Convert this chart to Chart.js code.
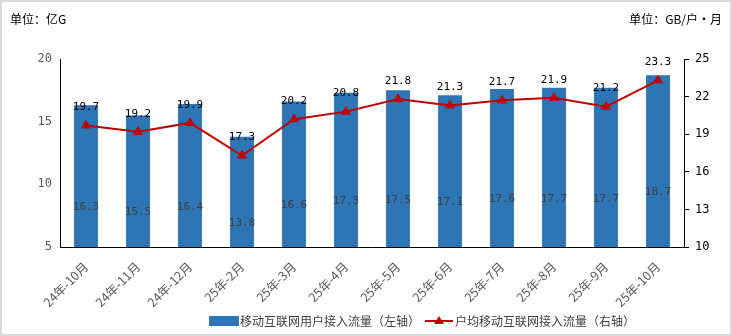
<!DOCTYPE html>
<html>
<head>
<meta charset="utf-8">
<script src="https://cdn.jsdelivr.net/npm/chart.js@4"></script>
<style>
  html, body { margin: 0; padding: 0; background: #fff; }
  #wrap { position: relative; width: 732px; height: 336px; box-sizing: border-box; border: 2px solid #d9d9d9; }
  canvas { position: absolute; left: -2px; top: -2px; }
</style>
</head>
<body>
<div id="wrap"><canvas id="c" width="732" height="336"></canvas></div>
<script>
// months on the x axis
const months = ['24年-10月', '24年-11月', '24年-12月', '25年-2月', '25年-3月', '25年-4月',
                '25年-5月', '25年-6月', '25年-7月', '25年-8月', '25年-9月', '25年-10月'];
// 移动互联网用户接入流量 (亿G, left axis)
const totalTraffic = [16.3, 15.5, 16.4, 13.8, 16.6, 17.3, 17.5, 17.1, 17.6, 17.7, 17.7, 18.7];
// 户均移动互联网接入流量 (GB/户·月, right axis)
const perUserTraffic = [19.7, 19.2, 19.9, 17.3, 20.2, 20.8, 21.8, 21.3, 21.7, 21.9, 21.2, 23.3];
const leftTicks = [5, 10, 15, 20];
const rightTicks = [10, 13, 16, 19, 22, 25];

const CJK = '"Noto Sans CJK SC", "Noto Sans", sans-serif';
const NUM = '"DejaVu Sans Mono", monospace';

// value labels + unit captions + legend, drawn by hand
const extras = {
  id: 'extras',
  afterDatasetsDraw(chart) {
    const ctx = chart.ctx;
    ctx.save();
    ctx.textAlign = 'center';
    ctx.textBaseline = 'middle';
    ctx.font = '11px ' + NUM;

    const bars = chart.getDatasetMeta(0).data;
    ctx.fillStyle = '#404040';
    bars.forEach((b, i) => {
      ctx.fillText(totalTraffic[i].toFixed(1), b.x, (b.y + b.base) / 2);
    });

    const pts = chart.getDatasetMeta(1).data;
    ctx.fillStyle = '#000';
    pts.forEach((p, i) => {
      ctx.fillText(perUserTraffic[i].toFixed(1), p.x, p.y - 18);
    });
    ctx.restore();
  },
  afterDraw(chart) {
    const ctx = chart.ctx;
    ctx.save();
    ctx.fillStyle = '#000';
    ctx.textBaseline = 'middle';
    ctx.font = '12px ' + CJK;
    ctx.textAlign = 'left';
    ctx.fillText('单位：亿G', 10, 19);
    ctx.textAlign = 'right';
    ctx.fillText('单位：GB/户・月', 722, 19);

    // legend
    const ds = chart.data.datasets;
    const y = 321;
    ctx.textAlign = 'left';
    ctx.fillStyle = '#2e75b6';
    ctx.fillRect(209, y - 5, 30, 10);
    ctx.fillStyle = '#404040';
    ctx.fillText(ds[0].label, 240, y);
    ctx.strokeStyle = '#c00000';
    ctx.lineWidth = 2;
    ctx.beginPath();
    ctx.moveTo(425, y);
    ctx.lineTo(453, y);
    ctx.stroke();
    ctx.fillStyle = '#c00000';
    ctx.beginPath();
    ctx.moveTo(439, y - 5);
    ctx.lineTo(444, y + 3);
    ctx.lineTo(434, y + 3);
    ctx.closePath();
    ctx.fill();
    ctx.fillStyle = '#404040';
    ctx.fillText(ds[1].label, 455, y);
    ctx.restore();
  }
};

new Chart(document.getElementById('c'), {
  type: 'bar',
  data: {
    labels: months,
    datasets: [
      {
        label: '移动互联网用户接入流量（左轴）',
        data: totalTraffic,
        backgroundColor: '#2e75b6',
        yAxisID: 'y',
        barPercentage: 0.46,
        categoryPercentage: 1,
        order: 2
      },
      {
        type: 'line',
        label: '户均移动互联网接入流量（右轴）',
        data: perUserTraffic,
        borderColor: '#c00000',
        backgroundColor: '#c00000',
        borderWidth: 2,
        pointStyle: 'triangle',
        pointRadius: 5,
        pointBorderWidth: 1,
        tension: 0,
        yAxisID: 'y1',
        order: 1
      }
    ]
  },
  options: {
    responsive: false,
    animation: false,
    layout: { padding: { top: 59, left: 0, right: 0, bottom: 0 } },
    plugins: { legend: { display: false }, tooltip: { enabled: false } },
    scales: {
      x: {
        afterFit: s => { s.height = 89; },
        grid: { display: false, drawTicks: false },
        border: { color: '#000', width: 1 },
        ticks: {
          color: '#595959',
          font: { family: CJK, size: 12.5 },
          minRotation: 45,
          maxRotation: 45,
          padding: 12
        }
      },
      y: {
        position: 'left',
        min: 5, max: 20,
        afterBuildTicks: s => { s.ticks = leftTicks.map(v => ({ value: v })); },
        afterFit: s => { s.width = 60; },
        grid: { display: false, drawOnChartArea: false, drawTicks: true, tickLength: 5, tickColor: '#000' },
        border: { color: '#000', width: 1 },
        ticks: { color: '#595959', font: { family: NUM, size: 12 }, padding: 3 }
      },
      y1: {
        position: 'right',
        min: 10, max: 25,
        afterBuildTicks: s => { s.ticks = rightTicks.map(v => ({ value: v })); },
        afterFit: s => { s.width = 48; },
        grid: { display: true, drawOnChartArea: false, drawTicks: true, tickLength: 5, tickColor: '#000' },
        border: { color: '#000', width: 1 },
        ticks: { color: '#000', font: { family: NUM, size: 12 }, padding: 6 }
      }
    }
  },
  plugins: [extras]
});
</script>
</body>
</html>
